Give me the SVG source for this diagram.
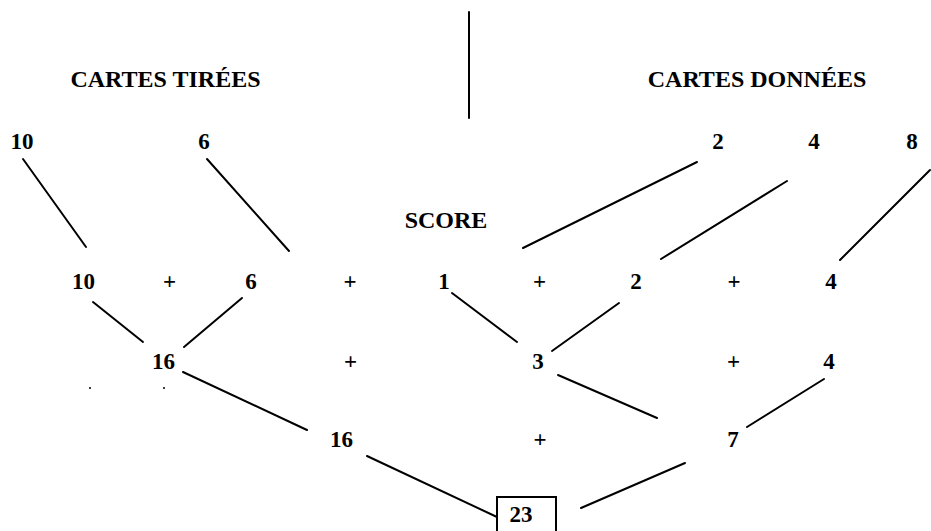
<svg xmlns="http://www.w3.org/2000/svg" width="931" height="531" viewBox="0 0 931 531">
  <style>
    .t { font-family: "Liberation Serif", "Times New Roman", serif; font-weight: bold; fill: #000; text-anchor: middle; }
    .h { font-size: 24px; }
    .n { font-size: 23px; }
    .c line { stroke: #000; stroke-width: 2; stroke-linecap: round; fill: none; }
  </style>
  <rect width="931" height="531" fill="#fff"/>

  <g id="divider" class="c"><line x1="469" y1="12" x2="469" y2="118"/></g>

  <g id="head-tirees"><text class="t h" x="165.5" y="87">CARTES TIRÉES</text></g>
  <g id="head-donnees"><text class="t h" x="757" y="87">CARTES DONNÉES</text></g>
  <g id="head-score"><text class="t h" x="446" y="228">SCORE</text></g>

  <!-- row 1 -->
  <g id="r1-10"><text class="t n" x="22" y="149">10</text></g>
  <g id="r1-6"><text class="t n" x="204" y="149">6</text></g>
  <g id="r1-2"><text class="t n" x="718" y="149">2</text></g>
  <g id="r1-4"><text class="t n" x="814" y="149">4</text></g>
  <g id="r1-8"><text class="t n" x="912" y="149">8</text></g>

  <!-- row 2 -->
  <g id="r2-10"><text class="t n" x="83.5" y="289">10</text></g>
  <g id="r2-p1"><text class="t n" x="169.5" y="289">+</text></g>
  <g id="r2-6"><text class="t n" x="251" y="289">6</text></g>
  <g id="r2-p2"><text class="t n" x="350" y="289">+</text></g>
  <g id="r2-1"><text class="t n" x="444" y="289">1</text></g>
  <g id="r2-p3"><text class="t n" x="539.5" y="289">+</text></g>
  <g id="r2-2"><text class="t n" x="636" y="289">2</text></g>
  <g id="r2-p4"><text class="t n" x="734" y="289">+</text></g>
  <g id="r2-4"><text class="t n" x="831" y="289">4</text></g>

  <!-- row 3 -->
  <g id="r3-16"><text class="t n" x="163.5" y="369">16</text></g>
  <g id="r3-p1"><text class="t n" x="350.5" y="369">+</text></g>
  <g id="r3-3"><text class="t n" x="538" y="369">3</text></g>
  <g id="r3-p2"><text class="t n" x="733.5" y="369">+</text></g>
  <g id="r3-4"><text class="t n" x="829" y="369">4</text></g>

  <!-- row 4 -->
  <g id="r4-16"><text class="t n" x="341.5" y="447">16</text></g>
  <g id="r4-p"><text class="t n" x="540" y="447">+</text></g>
  <g id="r4-7"><text class="t n" x="733" y="447">7</text></g>

  <!-- total -->
  <g id="total">
    <rect x="497" y="497" width="59" height="45" fill="none" stroke="#000" stroke-width="2"/>
    <text class="t n" x="521" y="522">23</text>
  </g>

  <!-- scan specks -->
  <g id="specks" fill="#000"><circle cx="90" cy="388" r="1"/><circle cx="164" cy="388" r="1"/></g>

  <g id="connectors" class="c">
    <line x1="23" y1="159" x2="86" y2="247"/>
    <line x1="207" y1="159" x2="289" y2="251"/>
    <line x1="697" y1="162" x2="523" y2="248"/>
    <line x1="787" y1="181" x2="661" y2="259"/>
    <line x1="930" y1="170" x2="840" y2="260"/>
    <line x1="93" y1="302" x2="143" y2="342"/>
    <line x1="242" y1="298" x2="184" y2="347"/>
    <line x1="452" y1="293" x2="517" y2="342"/>
    <line x1="619" y1="303" x2="552" y2="351"/>
    <line x1="183" y1="372" x2="307" y2="430"/>
    <line x1="558" y1="375" x2="657" y2="418"/>
    <line x1="824" y1="379" x2="747" y2="427"/>
    <line x1="367" y1="456" x2="497" y2="517"/>
    <line x1="685" y1="463" x2="581" y2="508"/>
  </g>
</svg>
